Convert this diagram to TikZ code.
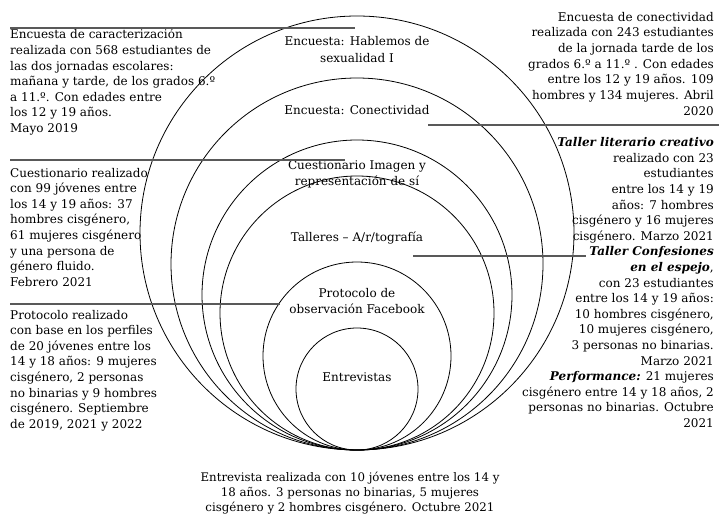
\documentclass[tikz,border=0pt]{standalone}
\usepackage{fontspec}
\setmainfont{DejaVu Serif}
\begin{document}
\begin{tikzpicture}[x=1pt,y=-1pt,
  ring/.style={draw=black,line width=0.8pt,circle,inner sep=0pt},
  sepline/.style={draw=black!65,line width=1.1pt},
  lbl/.style={inner sep=0pt,align=center,font=\fontsize{12}{16.5}\selectfont},
  txt/.style={inner sep=0pt,font=\fontsize{12}{15.6}\selectfont}]
\useasboundingbox (0,0) rectangle (719,516);
% rings
\node[ring,minimum size=434pt] (c1) at (357,233) {};
\node[ring,minimum size=372pt] (c2) at (357,264) {};
\node[ring,minimum size=310pt] (c3) at (357,295) {};
\node[ring,minimum size=274pt] (c4) at (357,313) {};
\node[ring,minimum size=188pt] (c5) at (357,356) {};
\node[ring,minimum size=122pt] (c6) at (357,389) {};
% ring labels (anchor = baseline of last line)
\node[lbl,anchor=base] (l1) at (357,62.5) {Encuesta: Hablemos de\\sexualidad I};
\node[lbl,anchor=base] (l2) at (357,114) {Encuesta: Conectividad};
\node[lbl,anchor=base] (l3) at (357,185.5) {Cuestionario Imagen y\\representación de sí};
\node[lbl,anchor=base] (l4) at (357,241) {Talleres – A/r/tografía};
\node[lbl,anchor=base] (l5) at (357,313.5) {Protocolo de\\observación Facebook};
\node[lbl,anchor=base] (l6) at (357,381) {Entrevistas};
% left texts
\node[txt,anchor=base west,align=left] (t1) at (10,132.6) {Encuesta de caracterización\\realizada con 568 estudiantes de\\las dos jornadas escolares:\\mañana y tarde, de los grados 6.º\\a 11.º. Con edades entre\\los 12 y 19 años.\\Mayo 2019};
\node[txt,anchor=base west,align=left] (t3) at (10,286.2) {Cuestionario realizado\\con 99 jóvenes entre\\los 14 y 19 años: 37\\hombres cisgénero,\\61 mujeres cisgénero\\y una persona de\\género fluido.\\Febrero 2021};
\node[txt,anchor=base west,align=left] (t5) at (10,428.2) {Protocolo realizado\\con base en los perfiles\\de 20 jóvenes entre los\\14 y 18 años: 9 mujeres\\cisgénero, 2 personas\\no binarias y 9 hombres\\cisgénero. Septiembre\\de 2019, 2021 y 2022};
% right texts
\node[txt,anchor=base east,align=right] (t2) at (714,115) {Encuesta de conectividad\\realizada con 243 estudiantes\\de la jornada tarde de los\\grados 6.º a 11.º . Con edades\\entre los 12 y 19 años. 109\\hombres y 134 mujeres. Abril\\2020};
\node[txt,anchor=base east,align=right] (t4) at (714,427.5) {\textbf{\textit{Taller literario creativo}}\\realizado con 23\\estudiantes\\entre los 14 y 19\\años: 7 hombres\\cisgénero y 16 mujeres\\cisgénero. Marzo 2021\\\textbf{\textit{Taller Confesiones}}\\\textbf{\textit{en el espejo}},\\con 23 estudiantes\\entre los 14 y 19 años:\\10 hombres cisgénero,\\10 mujeres cisgénero,\\3 personas no binarias.\\Marzo 2021\\\textbf{\textit{Performance:}} 21 mujeres\\cisgénero entre 14 y 18 años, 2\\personas no binarias. Octubre\\2021};
% bottom text
\node[txt,anchor=base,align=center,font=\fontsize{11.8}{14.8}\selectfont] (t6) at (350,511) {Entrevista realizada con 10 jóvenes entre los 14 y\\18 años. 3 personas no binarias, 5 mujeres\\cisgénero y 2 hombres cisgénero. Octubre 2021};
% separator lines
\coordinate (s1a) at (10,28);  \coordinate (s1b) at (355,28);
\coordinate (s2a) at (428,125); \coordinate (s2b) at (719,125);
\coordinate (s3a) at (10,160); \coordinate (s3b) at (345,160);
\coordinate (s4a) at (413,256); \coordinate (s4b) at (586,256);
\coordinate (s5a) at (10,304); \coordinate (s5b) at (280,304);
\draw[sepline] (s1a) -- (s1b);
\draw[sepline] (s2a) -- (s2b);
\draw[sepline] (s3a) -- (s3b);
\draw[sepline] (s4a) -- (s4b);
\draw[sepline] (s5a) -- (s5b);
\end{tikzpicture}
\end{document}
